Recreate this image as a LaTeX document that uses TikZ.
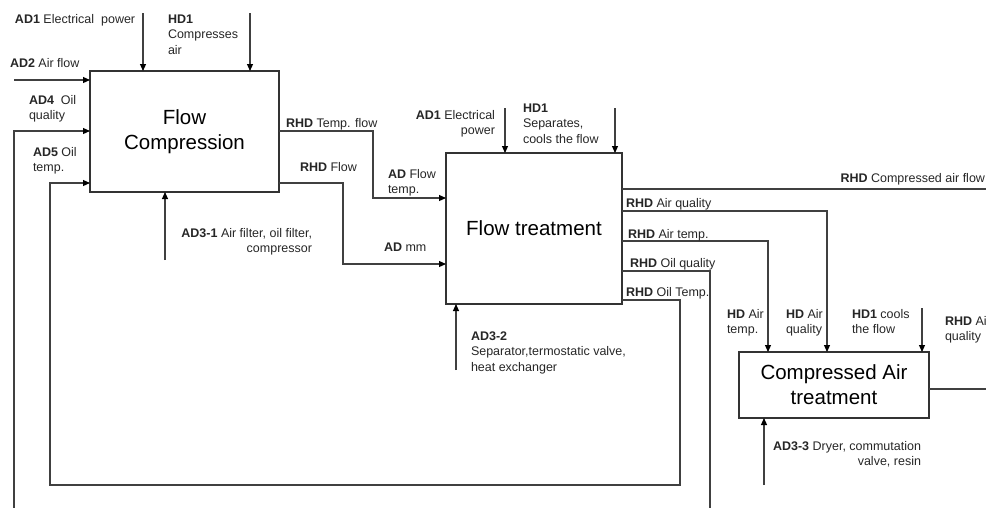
\documentclass[tikz,border=0pt]{standalone}
\usepackage{fontspec}
\setmainfont{Liberation Sans}
\usetikzlibrary{arrows.meta}
\newcommand\lblL[1]{\begin{tabular}[t]{@{}l@{}}#1\end{tabular}}
\newcommand\lblR[1]{\begin{tabular}[t]{@{}r@{}}#1\end{tabular}}
\begin{document}
\begin{tikzpicture}[x=1pt,y=-1pt,
 box/.style={draw=black!80, line width=1.3pt, inner sep=0pt, outer sep=0pt, align=center, font=\fontsize{20.5}{25}\selectfont},
 flow/.style={draw=black!75, line width=1.1pt, -{Triangle[length=7pt,width=6pt,color=black]}},
 wire/.style={draw=black!75, line width=1.1pt},
 lbl/.style={inner sep=0pt, outer sep=0pt, font=\fontsize{12.5}{15.5}\selectfont, text=black!85},
]
\useasboundingbox (0,0) rectangle (986,507);

% boxes
\node[box, minimum width=189pt, minimum height=121pt] (fc) at (184.5,131.5) {Flow\\Compression};
\node[box, minimum width=176pt, minimum height=151pt] (ft) at (534,228.5) {Flow treatment};
\node[box, minimum width=190pt, minimum height=66pt] (ca) at (834,385) {Compressed Air\\treatment};

% free ends
\coordinate (c1) at (143,13);
\coordinate (c2) at (250,13);
\coordinate (c3) at (14,80);
\coordinate (c4) at (14,512);
\coordinate (c5) at (165,260);
\coordinate (c6) at (505,108);
\coordinate (c7) at (615,108);
\coordinate (c8) at (456,370);
\coordinate (c9) at (992,189);
\coordinate (c10) at (710,512);
\coordinate (c11) at (922,308);
\coordinate (c12) at (764,485);
\coordinate (c13) at (992,389);

% Flow Compression inputs
\draw[flow] (c1) -- (fc.north -| c1);
\draw[flow] (c2) -- (fc.north -| c2);
\draw[flow] (c3) -- (fc.west |- c3);
\draw[flow] (c4) |- (fc.west |- 0,131);
\draw[flow] (ft.east |- 0,300) -- (680,300) -- (680,485) -- (50,485) |- (fc.west |- 0,183);
\draw[flow] (c5) -- (fc.south -| c5);

% Flow Compression outputs
\draw[flow] (fc.east |- 0,131) -- (373,131) |- (ft.west |- 0,198);
\draw[flow] (fc.east |- 0,183) -- (343,183) |- (ft.west |- 0,264);

% Flow treatment inputs
\draw[flow] (c6) -- (ft.north -| c6);
\draw[flow] (c7) -- (ft.north -| c7);
\draw[flow] (c8) -- (ft.south -| c8);

% Flow treatment outputs
\draw[wire] (ft.east |- c9) -- (c9);
\draw[flow] (ft.east |- 0,211) -| (ca.north -| 827,0);
\draw[flow] (ft.east |- 0,241) -| (ca.north -| 768,0);
\draw[wire] (ft.east |- 0,271) -| (c10);

% Compressed air treatment
\draw[flow] (c11) -- (ca.north -| c11);
\draw[flow] (c12) -- (ca.south -| c12);
\draw[wire] (ca.east |- c13) -- (c13);

% labels
\node[lbl, anchor=base west] (t1) at (15,23) {\textbf{AD1} Electrical\ \ power};
\node[lbl, anchor=base west] (t2) at (168,23) {\lblL{\textbf{HD1}\\Compresses\\air}};
\node[lbl, anchor=base west] (t3) at (10,67) {\textbf{AD2} Air flow};
\node[lbl, anchor=base west] (t4) at (29,104) {\lblL{\textbf{AD4}\ \ Oil\\quality}};
\node[lbl, anchor=base west] (t5) at (33,156) {\lblL{\textbf{AD5} Oil\\temp.}};
\node[lbl, anchor=base west] (t6) at (286,127) {\textbf{RHD} Temp. flow};
\node[lbl, anchor=base west] (t7) at (300,171) {\textbf{RHD} Flow};
\node[lbl, anchor=base east] (t8) at (312,237) {\lblR{\textbf{AD3-1} Air filter, oil filter,\\compressor}};
\node[lbl, anchor=base east] (t9) at (495,119) {\lblR{\textbf{AD1} Electrical\\power}};
\node[lbl, anchor=base west] (t10) at (523,112) {\lblL{\textbf{HD1}\\Separates,\\cools the flow}};
\node[lbl, anchor=base west] (t11) at (388,178) {\lblL{\textbf{AD} Flow\\temp.}};
\node[lbl, anchor=base west] (t12) at (384,251) {\textbf{AD} mm};
\node[lbl, anchor=base west] (t13) at (471,340) {\lblL{\textbf{AD3-2}\\Separator,termostatic valve,\\heat exchanger}};
\node[lbl, anchor=base east] (t14) at (985,182) {\textbf{RHD} Compressed air flow};
\node[lbl, anchor=base west] (t15) at (626,207) {\textbf{RHD} Air quality};
\node[lbl, anchor=base west] (t16) at (628,238) {\textbf{RHD} Air temp.};
\node[lbl, anchor=base west] (t17) at (630,267) {\textbf{RHD} Oil quality};
\node[lbl, anchor=base west] (t18) at (626,296) {\textbf{RHD} Oil Temp.};
\node[lbl, anchor=base west] (t19) at (727,318) {\lblL{\textbf{HD} Air\\temp.}};
\node[lbl, anchor=base west] (t20) at (786,318) {\lblL{\textbf{HD} Air\\quality}};
\node[lbl, anchor=base west] (t21) at (852,318) {\lblL{\textbf{HD1} cools\\the flow}};
\node[lbl, anchor=base west] (t22) at (945,325) {\lblL{\textbf{RHD} Air\\quality}};
\node[lbl, anchor=base east] (t23) at (921,450) {\lblR{\textbf{AD3-3} Dryer, commutation\\valve, resin}};
\end{tikzpicture}
\end{document}
